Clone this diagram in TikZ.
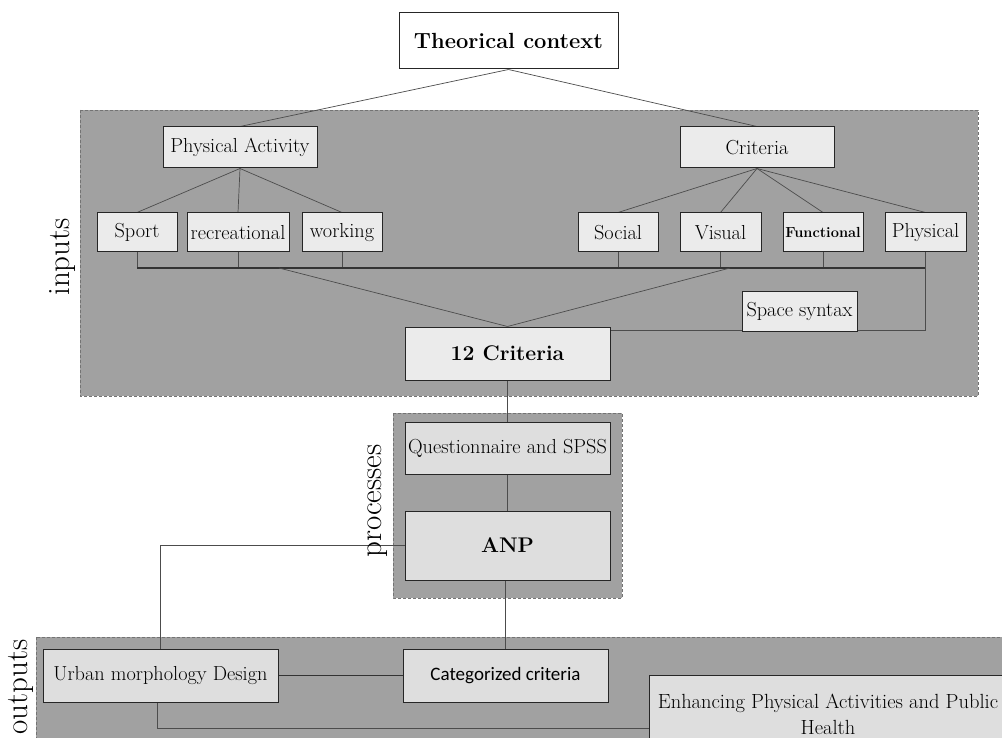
\documentclass[tikz,border=0pt]{standalone}
\usepackage{fontspec}
\newfontfamily\calib{Carlito}
\pgfdeclarelayer{panel}
\pgfdeclarelayer{wires}
\pgfsetlayers{panel,wires,main}
\definecolor{panelgray}{gray}{0.63}
\definecolor{paneledge}{gray}{0.45}
\definecolor{boxfill}{gray}{0.92}
\definecolor{boxfillb}{gray}{0.87}
\definecolor{wire}{gray}{0.3}
\begin{document}
\begin{tikzpicture}[x=1pt,y=-1pt,
  box/.style={draw=black!85, line width=1pt, fill=boxfill, inner sep=0pt, align=center,
    font=\fontsize{20.3}{24}\selectfont},
  boxb/.style={box, fill=boxfillb},
  bigbox/.style={box, font=\fontsize{21.2}{25}\selectfont\bfseries},
  panelbox/.style={fill=panelgray, draw=paneledge, densely dashed, line width=0.5pt},
  wireline/.style={draw=wire, line width=0.7pt},
  busline/.style={draw=black!80, line width=1.2pt},
  sidelabel/.style={rotate=90, inner sep=0pt, font=\fontsize{31}{36}\selectfont}]
\useasboundingbox (0,0) rectangle (1002,738);

% panels
\begin{pgfonlayer}{panel}
\fill[white] (0,0) rectangle (1002,738);
\draw[panelbox] (80,110) rectangle (978,396);
\draw[panelbox] (393,413) rectangle (622,598);
\draw[panelbox] (36,637) rectangle (1010,750);
\end{pgfonlayer}

% nodes
\node[box, fill=white, minimum width=219pt, minimum height=56pt, font=\fontsize{21.9}{26}\selectfont\bfseries] (theo) at (508.5,41) {Theorical context};
\node[box, minimum width=154pt, minimum height=41pt] (pa) at (240,147.5) {Physical Activity};
\node[box, minimum width=154pt, minimum height=41pt] (crit) at (757,147.5) {Criteria};
\node[box, minimum width=80pt, minimum height=39pt] (sport) at (137,232.5) {Sport};
\node[box, minimum width=102pt, minimum height=39pt] (rec) at (238,232.5) {recreational};
\node[box, minimum width=80pt, minimum height=39pt] (work) at (342,232.5) {working};
\node[box, minimum width=80pt, minimum height=39pt] (social) at (618,232.5) {Social};
\node[box, minimum width=81pt, minimum height=39pt] (visual) at (720.5,232.5) {Visual};
\node[box, minimum width=80pt, minimum height=39pt, font=\fontsize{14.6}{17}\selectfont\bfseries] (func) at (823,232.5) {Functional};
\node[box, minimum width=81pt, minimum height=39pt] (phys) at (925.5,232.5) {Physical};
\node[box, minimum width=115pt, minimum height=39pt] (space) at (799.5,311.5) {Space syntax};
\node[bigbox, minimum width=205pt, minimum height=53pt] (twelve) at (507.5,353.5) {12 Criteria};
\node[boxb, minimum width=205pt, minimum height=52pt] (quest) at (507.5,448) {Questionnaire and SPSS};
\node[bigbox, fill=boxfillb, minimum width=205pt, minimum height=69pt] (anp) at (507.5,545.5) {ANP};
\node[boxb, minimum width=235pt, minimum height=53pt] (urban) at (160.5,675.5) {Urban morphology Design};
\node[boxb, minimum width=205pt, minimum height=53pt, font=\fontsize{19}{23}\calib] (cat) at (505.5,675.5) {Categorized criteria};
\node[boxb, minimum width=358pt, minimum height=79.6pt, font=\fontsize{20.5}{26}\selectfont] (enh) at (828,714.8) {Enhancing Physical Activities and Public\\Health};

% side labels
\node[sidelabel] (lin) at (63,257) {inputs};
\node[sidelabel] (lproc) at (378,501) {processes};
\node[sidelabel] (lout) at (21,687) {outputs};

% connectors
\coordinate (busL) at (137,268);
\coordinate (busR) at (925.5,268);
\coordinate (busA) at (279,268);
\coordinate (busB) at (730,268);
\coordinate (ssy) at (925.5,330);
\coordinate (anpbend) at (160,547);
\coordinate (urbbend) at (157,728);
\begin{pgfonlayer}{wires}
\draw[wireline] (theo.south) -- (pa.north);
\draw[wireline] (theo.south) -- (crit.north);
\foreach \n in {sport,rec,work} \draw[wireline] (pa.south) -- (\n.north);
\foreach \n in {social,visual,func,phys} \draw[wireline] (crit.south) -- (\n.north);
\foreach \n in {sport,rec,work,social,visual,func} \draw[wireline] (\n.south) -- (\n.south |- busL);
\draw[busline] (busL) -- (busR);
\draw[wireline] (phys.south) -- (ssy) -- (twelve.east |- ssy);
\draw[wireline] (busA) -- (twelve.north);
\draw[wireline] (busB) -- (twelve.north);
\draw[wireline] (twelve.south) -- (quest.north);
\draw[wireline] (quest.south) -- (anp.north);
\draw[wireline] (anp.south -| cat.north) -- (cat.north);
\draw[wireline] (anp.west) -- (anp.west -| anpbend) -- (urban.north -| anpbend);
\draw[busline, line width=0.9pt] (urban.east) -- (cat.west);
\draw[wireline] (urban.south -| urbbend) -- (urbbend) -- (enh.west |- urbbend);
\end{pgfonlayer}
\end{tikzpicture}
\end{document}
